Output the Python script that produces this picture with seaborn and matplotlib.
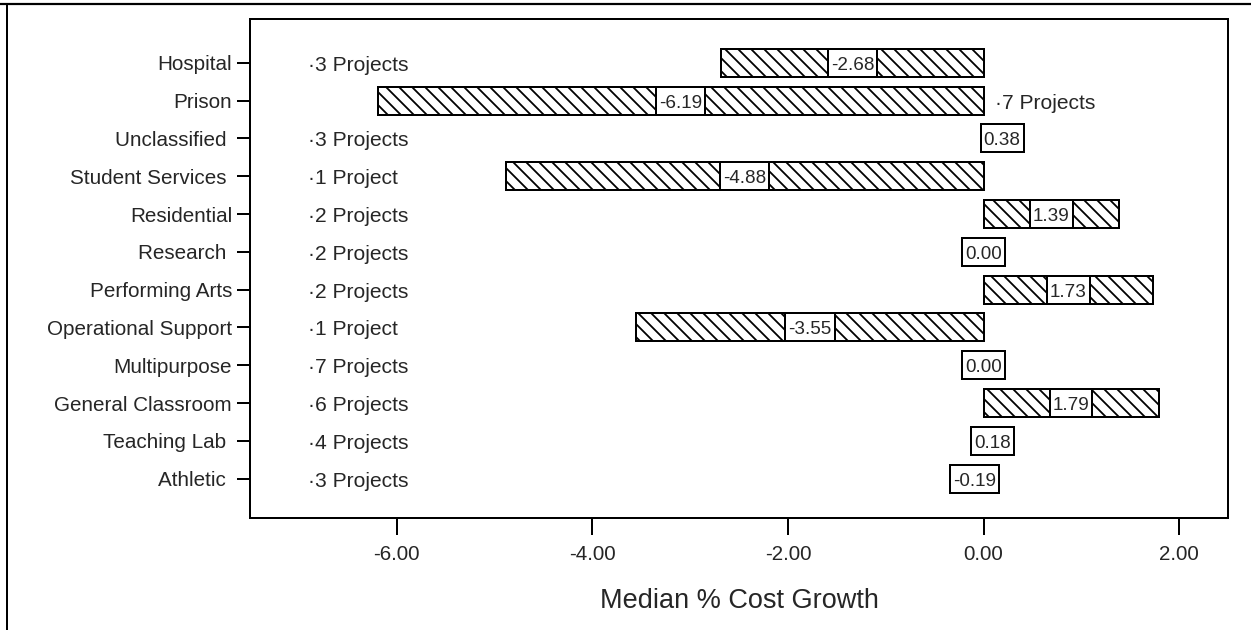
import matplotlib
matplotlib.use("Agg")
import matplotlib.pyplot as plt
from matplotlib.lines import Line2D
from matplotlib.transforms import offset_copy
import seaborn as sns

# data
categories = ["Hospital", "Prison", "Unclassified", "Student Services", "Residential",
              "Research", "Performing Arts", "Operational Support", "Multipurpose",
              "General Classroom", "Teaching Lab", "Athletic"]
median_growth = [-2.68, -6.19, 0.38, -4.88, 1.39, 0.00, 1.73, -3.55, 0.00, 1.79, 0.18, -0.19]
n_projects = [3, 7, 3, 1, 2, 2, 2, 1, 7, 6, 4, 3]
x_ticks = [-6.0, -4.0, -2.0, 0.0, 2.0]

# labels that carry a trailing gap before the tick in the original
spaced = {"Unclassified", "Student Services", "Research", "Teaching Lab", "Athletic"}

DPI = 78
PX = 72 / DPI  # points per pixel
BAR_H = 0.74

sns.set_style("ticks")
plt.rcParams["font.family"] = ["Liberation Sans", "DejaVu Sans"]
plt.rcParams["hatch.linewidth"] = 1.8 * PX

W, H = 1251, 630
fig = plt.figure(figsize=(W / DPI, H / DPI), dpi=DPI)
ax = fig.add_axes([250 / W, (H - 518) / H, (1228 - 250) / W, (518 - 19) / H])

sns.barplot(x=median_growth, y=categories, orient="h", width=BAR_H, color="white",
            saturation=1, edgecolor="black", linewidth=2 * PX, hatch="\\\\", ax=ax)

ax.set_xlim(-7.5, 2.5)
ax.set_ylim(12.04, -1.16)

# nudge text a couple of pixels down so the digits sit in the middle of the bar
text_tr = offset_copy(ax.transData, fig=fig, y=-2.5 * PX, units="points")

value_texts = []
for i, v in enumerate(median_growth):
    t = ax.text(v / 2, i, f"{v:.2f}", ha="center", va="center", fontsize=18.9 * PX,
                zorder=5, transform=text_tr)
    value_texts.append(t)
    word = "Project" if n_projects[i] == 1 else "Projects"
    # the count sits on the left unless the bar runs past it
    x = -6.91 if v > -6 else 0.12
    ax.text(x, i, f"\u00b7{n_projects[i]} {word}", ha="left", va="center",
            fontsize=21 * PX, transform=text_tr)

ax.set_xticks(x_ticks)
ax.set_xticklabels([f"{t:.2f}" for t in x_ticks])
ax.set_yticks(range(len(categories)))
ax.set_yticklabels([c + " " if c in spaced else c for c in categories])

ax.tick_params(axis="x", length=17 * PX, width=2 * PX, pad=10 * PX,
               labelsize=20.7 * PX, color="black")
ax.tick_params(axis="y", length=13 * PX, width=2 * PX, pad=5 * PX,
               labelsize=20.7 * PX, color="black")
for s in ax.spines.values():
    s.set_visible(True)
    s.set_linewidth(2 * PX)
    s.set_color("black")

ax.set_ylabel("")
ax.set_xlabel("Median % Cost Growth", fontsize=27.2 * PX)
ax.xaxis.set_label_coords(0.5, -0.140)

# white boxes behind the value labels, as tall as the bars and a bit wider than the text
fig.canvas.draw()
renderer = fig.canvas.get_renderer()
inv = ax.transData.inverted()
for i, t in enumerate(value_texts):
    bb = t.get_window_extent(renderer)
    x0 = inv.transform((bb.x0 - 3, 0))[0]
    x1 = inv.transform((bb.x1 + 3, 0))[0]
    ax.barh(i, x1 - x0, left=x0, height=BAR_H, color="white", edgecolor="black",
            linewidth=2 * PX, zorder=4)

# outer frame of the original page (top rule and left edge)
fig.add_artist(Line2D([0, 1], [1 - 4 / H] * 2, transform=fig.transFigure,
                      color="black", lw=2.2 * PX))
fig.add_artist(Line2D([7 / W] * 2, [0, 1 - 4 / H], transform=fig.transFigure,
                      color="black", lw=2 * PX))

fig.savefig("out.png", dpi=DPI)
